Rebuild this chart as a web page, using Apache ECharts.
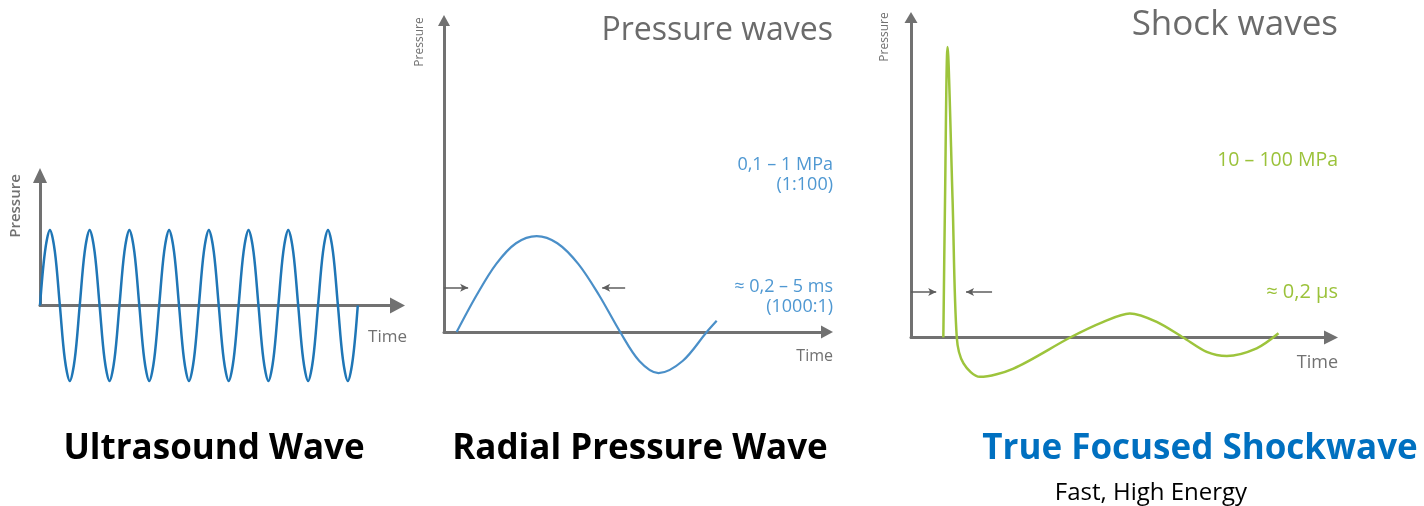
<!DOCTYPE html>
<html><head><meta charset="utf-8">
<script src="https://cdn.jsdelivr.net/npm/echarts@6/dist/echarts.min.js"></script>
<style>html,body{margin:0;padding:0;background:#fff}#c{width:1424px;height:506px}</style>
</head><body><div id="c"></div>
<script>
// Ultrasound wave: time in periods, pressure in amplitude units
const ultraTime = [0,0.125,0.25,0.375,0.5,0.625,0.75,0.875,
  1,1.125,1.25,1.375,1.5,1.625,1.75,1.875,
  2,2.125,2.25,2.375,2.5,2.625,2.75,2.875,
  3,3.125,3.25,3.375,3.5,3.625,3.75,3.875,
  4,4.125,4.25,4.375,4.5,4.625,4.75,4.875,
  5,5.125,5.25,5.375,5.5,5.625,5.75,5.875,
  6,6.125,6.25,6.375,6.5,6.625,6.75,6.875,
  7,7.125,7.25,7.375,7.5,7.625,7.75,7.875,8];
const ultraPressure = [0,0.71,1,0.71,0,-0.71,-1,-0.71,
  0,0.71,1,0.71,0,-0.71,-1,-0.71,
  0,0.71,1,0.71,0,-0.71,-1,-0.71,
  0,0.71,1,0.71,0,-0.71,-1,-0.71,
  0,0.71,1,0.71,0,-0.71,-1,-0.71,
  0,0.71,1,0.71,0,-0.71,-1,-0.71,
  0,0.71,1,0.71,0,-0.71,-1,-0.71,
  0,0.71,1,0.71,0,-0.71,-1,-0.71,0];

// Radial pressure wave
const radialTime = [0.33, 0.85, 1.36, 1.88, 2.42, 2.96, 3.51, 4.05, 4.60, 5.10, 5.60, 6.23, 6.86, 7.12];
const radialPressure = [0, 1.18, 2.18, 2.85, 3.08, 2.85, 2.18, 1.18, 0, -0.93, -1.32, -0.93, 0, 0.36];
// pulse-width arrows: [fromTime, toTime, level]
const radialArrows = [[0, 0.63, 1.42], [4.73, 4.13, 1.42]];

// Shock wave
const shockTime = [0.77, 0.81, 0.87, 0.99, 1.09, 1.25, 1.64, 2.44, 3.79, 4.58, 5.21, 5.85, 6.48, 7.04, 7.52, 8.23, 8.75];
const shockPressure = [0, 4.29, 9.08, 4.29, 0, -0.81, -1.23, -0.97, 0, 0.49, 0.75, 0.49, 0, -0.45, -0.58, -0.34, 0.13];
const shockArrows = [[0, 0.60, 1.42], [1.93, 1.31, 1.42]];

const AX = '#717171';
function zip(t, p) { return t.map((v, i) => [v, p[i]]); }
function arrowMarks(list) {
  return list.map(a => [{coord: [a[0], a[2]]}, {coord: [a[1], a[2]]}]);
}
function xAx(idx, max, sym) {
  return {type: 'value', gridIndex: idx, min: 0, max: max,
    axisLine: {show: true, onZero: false, symbol: ['none', 'triangle'], symbolSize: sym, lineStyle: {color: AX, width: 3}},
    axisTick: {show: false}, axisLabel: {show: false}, splitLine: {show: false}};
}
function yAx(idx, max, sym) {
  return {type: 'value', gridIndex: idx, min: 0, max: max,
    axisLine: {show: true, symbol: ['none', 'triangle'], symbolSize: sym, lineStyle: {color: AX, width: 3}},
    axisTick: {show: false}, axisLabel: {show: false}, splitLine: {show: false}};
}
function txt(x, y, text, font, fill, align, rot) {
  return {type: 'text', x: x, y: y, rotation: rot || 0, silent: true,
    style: {text: text, font: font, fill: fill, align: align, textAlign: align,
      verticalAlign: 'middle', textVerticalAlign: 'middle'}};
}
const markStyle = {silent: true, symbol: ['none', 'arrow'], symbolSize: [6, 8],
  lineStyle: {color: '#5e5e5e', width: 1.5, type: 'solid'}, label: {show: false}, emphasis: {disabled: true}};

const chart = echarts.init(document.getElementById('c'));
chart.setOption({
  animation: false,
  backgroundColor: '#fff',
  grid: [
    {left: 40, top: 175.5, width: 357.5, height: 130},
    {left: 444, top: 20.5, width: 383, height: 311.5},
    {left: 911, top: 17.5, width: 420, height: 320}
  ],
  xAxis: [xAx(0, 9, [16, 15]), xAx(1, 10, [13, 12]), xAx(2, 10, [14, 14])],
  yAxis: [yAx(0, 1.72, [14, 15]), yAx(1, 10, [12, 11]), yAx(2, 10, [13, 11])],
  series: [
    {type: 'line', xAxisIndex: 0, yAxisIndex: 0, data: zip(ultraTime, ultraPressure),
      smooth: 0.33, showSymbol: false, clip: false, lineStyle: {color: '#1f76b6', width: 2.5}},
    {type: 'line', xAxisIndex: 1, yAxisIndex: 1, data: zip(radialTime, radialPressure),
      smooth: 0.33, showSymbol: false, clip: false, lineStyle: {color: '#4a8fc8', width: 2.2},
      markLine: Object.assign({data: arrowMarks(radialArrows)}, markStyle)},
    {type: 'line', xAxisIndex: 2, yAxisIndex: 2, data: zip(shockTime, shockPressure),
      smooth: 0.3, showSymbol: false, clip: false, lineStyle: {color: '#9dc43c', width: 2.5},
      markLine: Object.assign({data: arrowMarks(shockArrows)}, markStyle)}
  ],
  graphic: [
    txt(16, 206, 'Pressure', '600 15px "Open Sans"', AX, 'center', Math.PI / 2),
    txt(407, 337, 'Time', '17px "Open Sans"', AX, 'right'),
    txt(420, 42, 'Pressure', '12px "Open Sans"', AX, 'center', Math.PI / 2),
    txt(833, 31, 'Pressure waves', '32px "Open Sans"', '#6b6b6b', 'right'),
    txt(833, 165, '0,1 – 1 MPa', '18px "Open Sans"', '#4f98d2', 'right'),
    txt(833, 185, '(1:100)', '18px "Open Sans"', '#4f98d2', 'right'),
    txt(833, 287, '≈ 0,2 – 5 ms', '18px "Open Sans"', '#4f98d2', 'right'),
    txt(833, 307, '(1000:1)', '18px "Open Sans"', '#4f98d2', 'right'),
    txt(833, 356, 'Time', '16px "Open Sans"', AX, 'right'),
    txt(885, 37, 'Pressure', '12px "Open Sans"', AX, 'center', Math.PI / 2),
    txt(1338, 25, 'Shock waves', '35px "Open Sans"', '#6b6b6b', 'right'),
    txt(1338, 160, '10 – 100 MPa', '19.5px "Open Sans"', '#9bc23a', 'right'),
    txt(1338, 292, '≈ 0,2 µs', '20px "Open Sans"', '#9bc23a', 'right'),
    txt(1338, 363, 'Time', '18px "Open Sans"', AX, 'right'),
    txt(214, 449, 'Ultrasound Wave', 'bold 35px "Open Sans"', '#000', 'center'),
    txt(640, 449, 'Radial Pressure Wave', 'bold 35px "Open Sans"', '#000', 'center'),
    txt(1200, 449, 'True Focused Shockwave', 'bold 35px "Open Sans"', '#0070c0', 'center'),
    txt(1151, 493, 'Fast, High Energy', '24px "Open Sans"', '#000', 'center')
  ]
});
</script></body></html>
